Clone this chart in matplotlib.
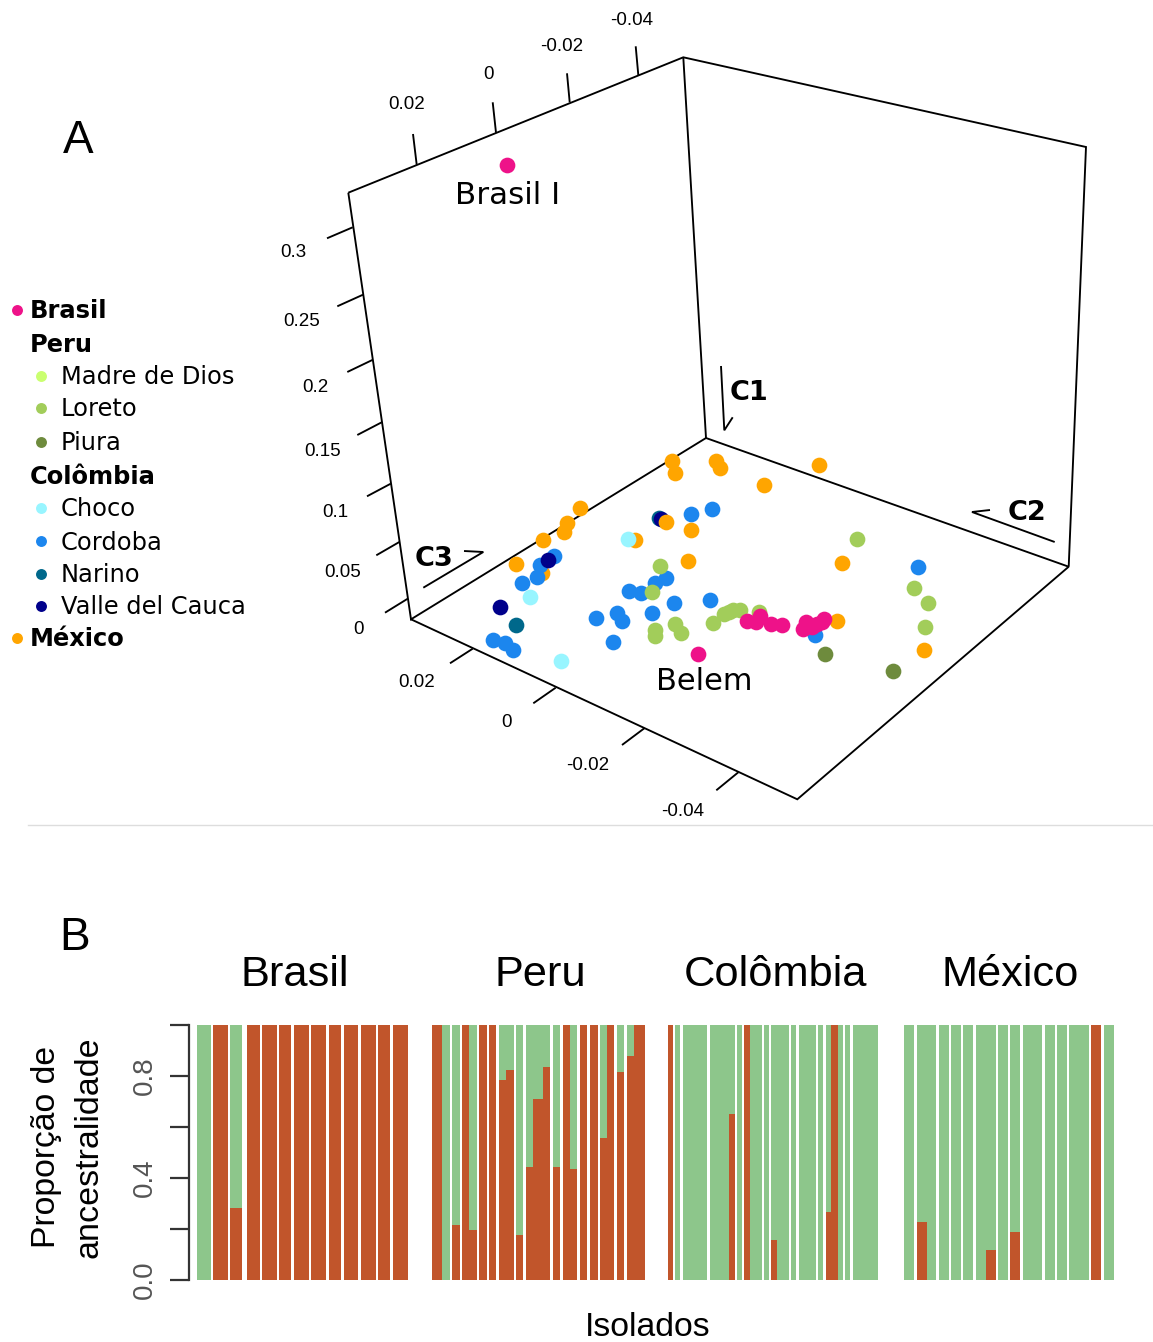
import matplotlib
matplotlib.use('Agg')
import matplotlib.pyplot as plt

W, H = 1153, 1342

# ---- panel A: points (screen x, y)
brasil_x = [507, 698, 747, 756, 760, 771, 782, 803, 806, 812, 817, 822, 824]
brasil_y = [165, 654, 621, 622, 616, 624, 625, 629, 622, 627, 624, 622, 619]
loreto_x = [660, 652, 655, 655, 675, 681, 857, 914, 928, 925, 713, 724, 729, 733, 740, 759]
loreto_y = [566, 592, 630, 636, 624, 633, 539, 588, 603, 627, 623, 614, 612, 610, 610, 612]
piura_x = [825, 893]
piura_y = [654, 671]
choco_x = [530, 628, 561]
choco_y = [597, 539, 661]
cordoba_x = [554, 540, 537, 522, 691, 666, 655, 629, 641, 674, 652, 617, 622, 596, 613,
             493, 505, 513, 712, 710, 815, 918]
cordoba_y = [556, 565, 577, 583, 514, 578, 583, 591, 593, 603, 613, 613, 621, 618, 642,
             640, 643, 650, 509, 600, 635, 567]
narino_x = [516, 659]
narino_y = [625, 518]
valle_x = [548, 500, 661]
valle_y = [560, 607, 519]
mexico_x = [672, 675, 580, 567, 564, 543, 516, 666, 635, 691, 688, 716, 720, 764, 819, 842, 837, 924]
mexico_y = [461, 473, 508, 523, 532, 540, 564, 522, 540, 530, 561, 461, 468, 485, 465, 563, 621, 650]
mexico_back_x = [542]
mexico_back_y = [573]

# box and ticks of the 3d frame
frame_lines = [
    [(348.3, 192.7), (683.3, 57.3), (1086, 147), (1068.7, 566.7)],
    [(683.3, 57.3), (706, 438)],
    [(348.3, 192.7), (411, 619.3), (706, 438), (1068.7, 566.7), (797.3, 799.3), (411, 619.3)],
]
frame_ticks = [
    [(416.7, 164.7), (413, 134)], [(496, 132.7), (492.7, 102.3)],
    [(569.7, 102.3), (567, 73.3)], [(638.3, 75), (635.7, 46.3)],
    [(352.7, 227.3), (327, 238.3)], [(363, 294.7), (337.3, 306.3)],
    [(372.3, 360), (347.3, 372)], [(381.7, 422.3), (357.3, 435)],
    [(390.7, 483.7), (367, 496.3)], [(399.3, 542), (376.3, 555.3)],
    [(407.7, 598.7), (385, 612.7)],
    [(472.7, 648.7), (450, 663.3)], [(555.7, 687.7), (533.3, 703.3)],
    [(644.3, 728.3), (622, 745)], [(738.3, 772.3), (716.3, 790.3)],
]
frame_arrows = [
    [(721, 366), (724.3, 430.3), (732.7, 417.3)],
    [(1054.7, 542), (972, 512), (990, 510)],
    [(423.3, 587.7), (483.3, 552), (464, 551)],
]
tick_labels = [
    ('0.02', 407, 104.5), ('0', 488, 74.5), ('-0.02', 562, 46.5), ('-0.04', 632, 20.5),
    ('0.3', 293, 252.5), ('0.25', 302, 321.5), ('0.2', 315, 387.5), ('0.15', 323, 451.5),
    ('0.1', 335, 512.5), ('0.05', 343, 572.5), ('0', 358, 629.5),
    ('0.02', 417, 682.5), ('0', 507, 722.5), ('-0.02', 588, 765.5), ('-0.04', 683, 811.5),
]

# legend
legend_names = ['Brasil', 'Peru', 'Madre de Dios', 'Loreto', 'Piura', 'Colômbia',
                'Choco', 'Cordoba', 'Narino', 'Valle del Cauca', 'México']
legend_cols = ['#EE1289', None, '#CAFF70', '#A2CD5A', '#6E8B3D', None,
               '#98F5FF', '#1C86EE', '#00688B', '#00008B', '#FFA500']
legend_bold = [True, True, False, False, False, True, False, False, False, False, True]
legend_y = [310, 343, 376, 408, 442, 476, 508, 541, 574, 606, 638]

# ---- panel B: proportion of the red ancestry per isolate
brasil_prop = [0, 1, 0.28, 1, 1, 1, 1, 1, 1, 1, 1, 1, 1]
brasil_left = [197, 213, 230.2, 247.2, 262.4, 279.3, 294.2, 311.2, 328.8, 343.7, 360.6, 377.9, 392.8]
brasil_right = [210.6, 227.5, 242.1, 259.7, 277, 291.5, 308.8, 325.7, 341, 358.2, 375.5, 390.4, 407.6]

peru_prop = [1, 0, 0.216, 1, 0.196, 1, 1, 0.783, 0.825, 0.174, 0.444, 0.711, 0.834, 0.444,
             1, 0.433, 1, 1, 0.556, 1, 0.814, 0.877, 1]
peru_left = [432, 442.2, 452, 461.8, 469.3, 479.1, 488.9, 499.1, 506.2, 516, 526.2, 533.3, 543.1,
             552.9, 563.1, 570.5, 580, 590.1, 600, 607.1, 617.2, 627.1, 634.5]
peru_right = [442.2, 449.6, 459.5, 469.3, 476.7, 486.5, 496.4, 506.2, 513.6, 523.5, 533.3, 543.1,
              550.5, 560.4, 570.5, 577.3, 587.5, 597.6, 607.1, 614.5, 624.4, 634.5, 644.7]

colombia_prop = [1, 0, 0, 0, 0.649, 0, 1, 0, 0, 0.154, 0, 0, 0, 0, 0.267, 1, 0, 0, 0]
colombia_left = [668, 675.3, 683, 710, 729.3, 737.3, 744.3, 749.7, 764.3, 771.3, 776.7, 791.3,
                 798.7, 818.3, 825.7, 830.7, 838.3, 845.3, 852.7]
colombia_right = [673.3, 680.3, 707.3, 729.3, 734.7, 741.7, 749.7, 761.7, 769, 776.7, 788.7, 796,
                  815.7, 823.3, 830.7, 838.3, 842.7, 850, 877.7]

mexico_prop = [0, 0.226, 0, 0, 0, 0, 0, 0.114, 0, 0.186, 0, 0, 0, 0, 1, 0]
mexico_left = [904.3, 916.7, 926.7, 939, 951.3, 963.3, 976, 985.7, 998, 1010.3, 1022.7, 1044.7,
               1057, 1069.3, 1091.3, 1103.7]
mexico_right = [914.3, 926.7, 936.3, 948.7, 961, 973.3, 985.7, 995.7, 1007.7, 1020, 1042, 1054.7,
                1066.7, 1089, 1101.3, 1113.7]

country_names = ['Brasil', 'Peru', 'Colômbia', 'México']
country_x = [295, 540, 775, 1010]

red = '#C1552B'
green = '#8DC68B'
sans = 'Liberation Sans'

fig = plt.figure(figsize=(W / 100, H / 100), dpi=100)

# overlay in pixel coordinates, holds panel A and all the free text
ax = fig.add_axes([0, 0, 1, 1])
ax.set_xlim(0, W)
ax.set_ylim(H, 0)
ax.axis('off')

for line in frame_lines + frame_ticks + frame_arrows:
    ax.plot([p[0] for p in line], [p[1] for p in line], color='black', lw=1.35,
            solid_joinstyle='miter', solid_capstyle='butt')
for txt, x, y in tick_labels:
    ax.text(x, y, txt, family=sans, fontsize=13.5, ha='center', va='center')

# back to front, the order of the overlaps in the reference
groups = [(mexico_back_x, mexico_back_y, '#FFA500'),
          (cordoba_x, cordoba_y, '#1C86EE'),
          (narino_x, narino_y, '#00688B'),
          (valle_x, valle_y, '#00008B'),
          (loreto_x, loreto_y, '#A2CD5A'),
          (piura_x, piura_y, '#6E8B3D'),
          (mexico_x, mexico_y, '#FFA500'),
          (choco_x, choco_y, '#98F5FF'),
          (brasil_x, brasil_y, '#EE1289')]
for gx, gy, col in groups:
    ax.scatter(gx, gy, s=128, color=col, linewidths=0, zorder=3)

ax.text(508, 195, 'Brasil I', fontsize=22.3, ha='center', va='center')
ax.text(704, 681, 'Belem', fontsize=22, ha='center', va='center')
ax.text(749, 393.5, 'C1', fontsize=19.5, fontweight='bold', ha='center', va='center')
ax.text(1027, 513.5, 'C2', fontsize=19.5, fontweight='bold', ha='center', va='center')
ax.text(434, 558.5, 'C3', fontsize=19.5, fontweight='bold', ha='center', va='center')

ax.text(78, 141, 'A', family=sans, fontsize=33, ha='center', va='center')
ax.text(75, 938, 'B', family=sans, fontsize=33, ha='center', va='center')

for name, col, bold, y in zip(legend_names, legend_cols, legend_bold, legend_y):
    if bold:
        tx = 30
        mx = 17
    else:
        tx = 61
        mx = 41
    if col is not None:
        ax.scatter([mx], [y], s=62, color=col, linewidths=0)
    ax.text(tx, y + 1.5, name, fontsize=17.4, fontweight='bold' if bold else 'normal', va='center')

ax.plot([28, W], [825, 825], color='#DDDDDD', lw=1)

for name, x in zip(country_names, country_x):
    ax.text(x, 975, name, family=sans, fontsize=31.2, ha='center', va='center')
ax.text(47, 1147, 'Proporção de', family=sans, fontsize=24.3, rotation=90, ha='center', va='center')
ax.text(89, 1147, 'ancestralidade', family=sans, fontsize=24.5, rotation=90, ha='center', va='center')
ax.text(648, 1327, 'Isolados', family=sans, fontsize=24.3, ha='center', va='center')

# panel B, x limits are the pixels so the bars keep their uneven widths
left, right, top, bottom = 189, 1130, 1025, 1279.5
axb = fig.add_axes([left / W, 1 - bottom / H, (right - left) / W, (bottom - top) / H])
axb.set_xlim(left, right)
axb.set_ylim(0, 1)
axb.patch.set_alpha(0)
for s in ['top', 'right', 'bottom']:
    axb.spines[s].set_visible(False)
axb.spines['left'].set_linewidth(1.6)
axb.spines['left'].set_color('#333333')
axb.set_xticks([])
axb.set_yticks([0, 0.2, 0.4, 0.6, 0.8, 1.0])
axb.set_yticklabels(['0.0', '', '0.4', '', '0.8', ''], family=sans, fontsize=20, color='#555555',
                    rotation=90, va='center')
axb.tick_params(axis='y', length=13.5, width=1.6, color='#333333', pad=9)

for prop, lefts, rights in [(brasil_prop, brasil_left, brasil_right),
                            (peru_prop, peru_left, peru_right),
                            (colombia_prop, colombia_left, colombia_right),
                            (mexico_prop, mexico_left, mexico_right)]:
    widths = [r - l for l, r in zip(lefts, rights)]
    rest = [1 - p for p in prop]
    axb.bar(lefts, prop, width=widths, align='edge', color=red, linewidth=0)
    axb.bar(lefts, rest, width=widths, bottom=prop, align='edge', color=green, linewidth=0)

fig.savefig('out.png', dpi=100)
